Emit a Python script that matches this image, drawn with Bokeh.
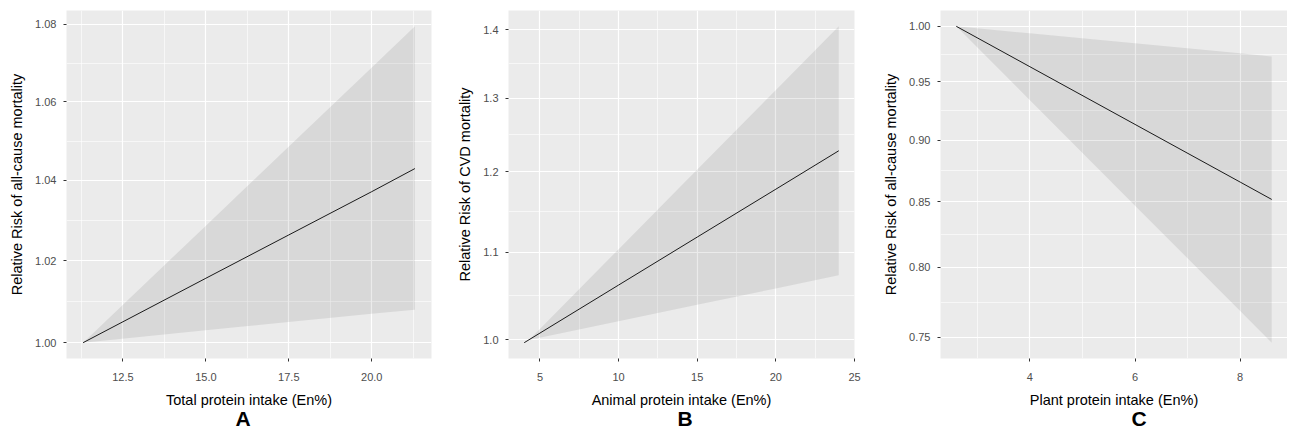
import math
from bokeh.plotting import figure
from bokeh.layouts import row
from bokeh.models import Range1d, FixedTicker, PrintfTickFormatter, Title
from bokeh.embed import file_html
from bokeh.resources import INLINE

# ---------------- data ----------------
# Panel A: total protein vs all-cause mortality
a_x = [11.3, 15.0, 17.5, 20.0, 21.3]
a_rr = [1.000, 1.0157, 1.0264, 1.0372, 1.0430]
a_lo = [1.000, 1.003, 1.005, 1.007, 1.008]
a_hi = [1.000, 1.0287, 1.0486, 1.0688, 1.0795]
a_xticks = [12.5, 15.0, 17.5, 20.0]
a_yticks = [1.00, 1.02, 1.04, 1.06, 1.08]

# Panel B: animal protein vs CVD mortality
b_x = [4.0, 10.0, 15.0, 20.0, 24.0]
b_rr = [0.997, 1.0613, 1.118, 1.1776, 1.2277]
b_band_x = [4.3, 10.0, 15.0, 20.0, 24.0]
b_lo = [1.000, 1.0205, 1.0388, 1.0574, 1.0726]
b_hi = [1.000, 1.1034, 1.2029, 1.3113, 1.4051]
b_xticks = [5, 10, 15, 20, 25]
b_yticks = [1.0, 1.1, 1.2, 1.3, 1.4]

# Panel C: plant protein vs all-cause mortality
c_x = [2.6, 4.0, 6.0, 8.0, 8.6]
c_rr = [1.000, 0.9633, 0.9132, 0.8657, 0.8519]
c_lo = [1.000, 0.9339, 0.847, 0.7683, 0.7461]
c_hi = [1.000, 0.9935, 0.9844, 0.9753, 0.9725]
c_xticks = [4, 6, 8]
c_yticks = [0.75, 0.80, 0.85, 0.90, 0.95, 1.00]

FONT = "Liberation Sans"
H = 430


def lin_minor(t):
    step = t[1] - t[0]
    ext = [t[0] - step] + list(t) + [t[-1] + step]
    return [(ext[i] + ext[i + 1]) / 2 for i in range(len(ext) - 1)]


def log_minor(t):
    step = t[1] - t[0]
    ext = [t[0] - step] + list(t) + [t[-1] + step]
    return [math.sqrt(ext[i] * ext[i + 1]) for i in range(len(ext) - 1)]


def lin_range(vals):
    lo, hi = min(vals), max(vals)
    d = (hi - lo) * 0.05
    return Range1d(lo - d, hi + d)


def log_range(vals):
    lo, hi = math.log(min(vals)), math.log(max(vals))
    d = (hi - lo) * 0.05
    return Range1d(math.exp(lo - d), math.exp(hi + d))


def panel(x, rr, bx, lo, hi, xticks, yticks, xfmt, yfmt, xlabel, ylabel,
          letter, width, lb, rb, loff):
    p = figure(width=width, height=H,
               x_range=lin_range(list(x) + list(bx)),
               y_range=log_range(list(rr) + list(lo) + list(hi)),
               y_axis_type="log", output_backend="svg", toolbar_location=None,
               min_border_left=lb, min_border_right=rb, min_border_top=10,
               min_border_bottom=72,
               background_fill_color="#EBEBEB", border_fill_color="white",
               outline_line_color=None)
    p.varea(x=bx, y1=lo, y2=hi, fill_color="black", fill_alpha=0.08)
    p.line(x=x, y=rr, line_color="#1a1a1a", line_width=1)

    p.xaxis.ticker = FixedTicker(ticks=xticks, minor_ticks=lin_minor(xticks))
    p.yaxis.ticker = FixedTicker(ticks=yticks, minor_ticks=log_minor(yticks))
    p.xaxis.formatter = PrintfTickFormatter(format=xfmt)
    p.yaxis.formatter = PrintfTickFormatter(format=yfmt)

    for ax in (p.xaxis, p.yaxis):
        ax.axis_line_color = None
        ax.major_tick_line_color = "#333333"
        ax.major_tick_in = 0
        ax.major_tick_out = 3
        ax.minor_tick_line_color = None
        ax.major_label_text_font = FONT
        ax.major_label_text_font_size = "11px"
        ax.major_label_text_color = "#4D4D4D"
        ax.axis_label_text_font = FONT
        ax.axis_label_text_font_size = "14.5px"
        ax.axis_label_text_font_style = "normal"
        ax.axis_label_text_color = "black"
    p.xaxis.major_label_standoff = 10
    p.yaxis.major_label_standoff = 6
    p.xaxis.axis_label_standoff = 8
    p.yaxis.axis_label_standoff = 7
    p.xaxis.axis_label = xlabel
    p.yaxis.axis_label = ylabel

    for g in (p.xgrid, p.ygrid):
        g.grid_line_color = "white"
        g.grid_line_width = 1.2
        g.minor_grid_line_color = "white"
        g.minor_grid_line_width = 0.6

    t = Title(text=letter, align="left", offset=loff, text_font=FONT,
              text_font_size="21px", text_font_style="bold",
              text_color="black", standoff=-12)
    p.add_layout(t, "below")
    return p


pA = panel(a_x, a_rr, a_x, a_lo, a_hi, a_xticks, a_yticks, "%.1f", "%.2f",
           "Total protein intake (En%)", "Relative Risk of all-cause mortality",
           "A", 453, 66, 22, 169)
pB = panel(b_x, b_rr, b_band_x, b_lo, b_hi, b_xticks, b_yticks, "%d", "%.1f",
           "Animal protein intake (En%)", "Relative Risk of CVD mortality",
           "B", 427, 55, 26, 169)
pC = panel(c_x, c_rr, c_x, c_lo, c_hi, c_xticks, c_yticks, "%d", "%.2f",
           "Plant protein intake (En%)", "Relative Risk of all-cause mortality",
           "C", 407, 60, 0, 191)

layout = row(pA, pB, pC)
open("out.html", "w").write(file_html(layout, INLINE))
